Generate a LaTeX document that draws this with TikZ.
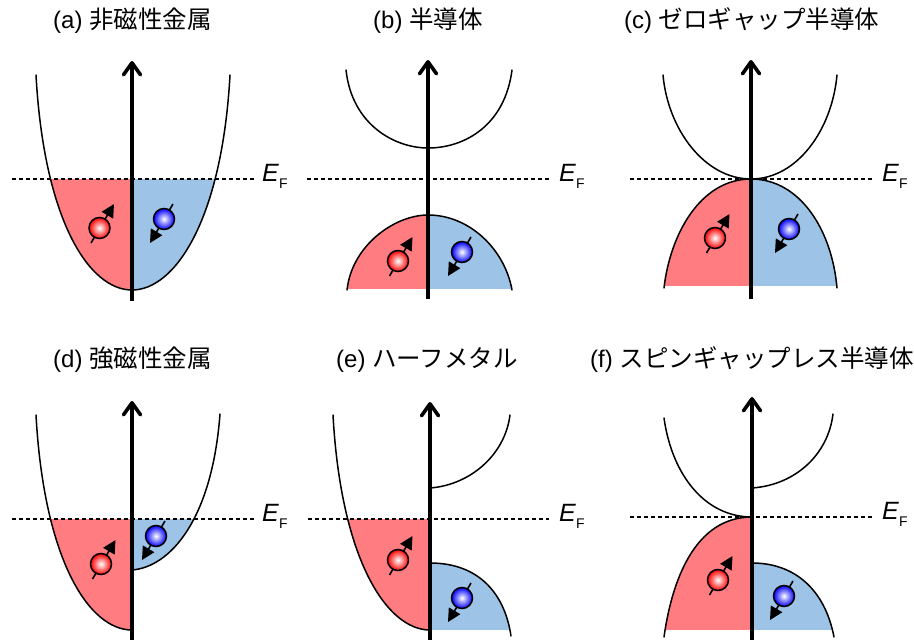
\documentclass[tikz,border=0pt]{standalone}
\usepackage{fontspec}
\setmainfont{Liberation Sans}
\newfontfamily\cjk{Noto Sans CJK JP}
\usetikzlibrary{arrows.meta}
\definecolor{upfill}{HTML}{FF7C80}
\definecolor{downfill}{HTML}{9DC3E6}
\newcommand{\cj}[1]{{\cjk\fontsize{24.5}{28}\selectfont #1}}
\tikzset{
  x=1pt,y=-1pt,
  band/.style={draw=black,line width=1.5pt,line cap=round},
  axisline/.style={draw=black,line width=3.8pt,-{Straight Barb[length=12pt,width=17pt,round,line width=3.6pt]}},
  fermi/.style={draw=black,line width=1.2pt,dash pattern=on 3.6pt off 3.4pt},
  title/.style={anchor=base west,inner sep=0pt,font=\fontsize{24}{28}\selectfont},
  eflabel/.style={anchor=base west,inner sep=0pt,font=\fontsize{25}{28}\selectfont},
  spinarrow/.style={draw=black,line width=1.6pt,-{Triangle[length=13pt,width=13pt]}},
  spinball/.style={draw=black,line width=1.5pt},
}
\newcommand{\spinup}[2]{%
  \draw[spinarrow] (#1-8.5,#2+15) -- (#1+14.5,#2-24);
  \shade[inner color=white,outer color=red] (#1,#2) circle (10.5);
  \draw[spinball] (#1,#2) circle (10.5);}
\newcommand{\spindown}[2]{%
  \draw[spinarrow] (#1+9,#2-15) -- (#1-14,#2+24);
  \shade[inner color=white,outer color=blue] (#1,#2) circle (10.5);
  \draw[spinball] (#1,#2) circle (10.5);}
\newcommand{\eflab}[3]{\node[eflabel] (#3) at (#1,#2) {\textit{E}\raisebox{-7pt}{\fontsize{14}{16}\selectfont F}};}
\begin{document}
\begin{tikzpicture}
\useasboundingbox (0,0) rectangle (914,640);
% ---------- fills
\begin{scope}\clip (0,179) rectangle (132,300);
  \fill[upfill] (132,290) .. controls (89,290) and (44,220) .. (36,75) -- (132,75) -- cycle;\end{scope}
\begin{scope}\clip (132,179) rectangle (300,300);
  \fill[downfill] (132,290) .. controls (175,290) and (222,220) .. (230,75) -- (132,75) -- cycle;\end{scope}
\begin{scope}\clip (300,179) rectangle (428,288);
  \fill[upfill] (347,290) .. controls (352,245) and (395,215) .. (428,215) -- (428,290) -- cycle;\end{scope}
\begin{scope}\clip (428,179) rectangle (600,288);
  \fill[downfill] (428,215) .. controls (470,215) and (505,250) .. (512,290) -- (428,290) -- cycle;\end{scope}
\begin{scope}\clip (600,179) rectangle (751,285);
  \fill[upfill] (664,288) .. controls (670,235) and (700,179) .. (751,179) -- (751,288) -- cycle;\end{scope}
\begin{scope}\clip (751,179) rectangle (900,285);
  \fill[downfill] (751,179) .. controls (800,179) and (832,230) .. (837,288) -- (751,288) -- cycle;\end{scope}
\begin{scope}\clip (0,519) rectangle (132,640);
  \fill[upfill] (132,630) .. controls (89,630) and (44,560) .. (36,415) -- (132,415) -- cycle;\end{scope}
\begin{scope}\clip (132,519) rectangle (300,640);
  \fill[downfill] (132,570) .. controls (170,567) and (212,520) .. (220,414) -- (132,414) -- cycle;\end{scope}
\begin{scope}\clip (300,519) rectangle (430,640);
  \fill[upfill] (430,630) .. controls (387,630) and (341,560) .. (333,415) -- (430,415) -- cycle;\end{scope}
\begin{scope}\clip (430,519) rectangle (600,629);
  \fill[downfill] (430,563) .. controls (480,563) and (505,595) .. (511,636) -- (430,636) -- cycle;\end{scope}
\begin{scope}\clip (600,517) rectangle (752,629);
  \fill[upfill] (664,637) .. controls (672,580) and (695,517) .. (752,517) -- (752,637) -- cycle;\end{scope}
\begin{scope}\clip (752,517) rectangle (900,629);
  \fill[downfill] (752,563) .. controls (795,563) and (825,590) .. (834,637) -- (752,637) -- cycle;\end{scope}
% ---------- Fermi levels
\coordinate (fa1) at (12,179); \coordinate (fa2) at (255,179);
\coordinate (fb1) at (307,179); \coordinate (fb2) at (550,179);
\coordinate (fc1) at (630,179); \coordinate (fc2) at (872,179);
\coordinate (fd1) at (12,519); \coordinate (fd2) at (255,519);
\coordinate (fe1) at (308,519); \coordinate (fe2) at (549,519);
\coordinate (ff1) at (630,517); \coordinate (ff2) at (872,517);
\draw[fermi] (fa1) -- (fa2);
\draw[fermi] (fb1) -- (fb2);
\draw[fermi] (fc1) -- (fc2);
\draw[fermi] (fd1) -- (fd2);
\draw[fermi] (fe1) -- (fe2);
\draw[fermi] (ff1) -- (ff2);
% ---------- bands
\draw[band] (36,75) .. controls (44,220) and (89,290) .. (132,290) .. controls (175,290) and (222,220) .. (230,75);
\draw[band] (346,70) .. controls (352,125) and (395,148) .. (428,148) .. controls (465,148) and (505,125) .. (512,70);
\draw[band] (347,290) .. controls (352,245) and (395,215) .. (428,215) .. controls (470,215) and (505,250) .. (512,290);
\draw[band] (663,75) .. controls (668,130) and (705,179) .. (751,179) .. controls (797,179) and (832,130) .. (837,75);
\draw[band] (664,288) .. controls (670,235) and (700,179) .. (751,179) .. controls (800,179) and (832,230) .. (837,288);
\draw[band] (36,415) .. controls (44,560) and (89,630) .. (132,630);
\draw[band] (132,570) .. controls (170,567) and (212,520) .. (220,414);
\draw[band] (333,415) .. controls (341,560) and (387,630) .. (430,630);
\draw[band] (430,488) .. controls (470,485) and (505,455) .. (510,415);
\draw[band] (430,563) .. controls (480,563) and (505,595) .. (511,636);
\draw[band] (664,418) .. controls (672,475) and (705,517) .. (752,517);
\draw[band] (752,488) .. controls (795,485) and (828,455) .. (833,414);
\draw[band] (664,637) .. controls (672,580) and (695,517) .. (752,517);
\draw[band] (752,563) .. controls (795,563) and (825,590) .. (834,637);
% ---------- axes
\draw[axisline] (132,301) -- (132,61);
\draw[axisline] (428,299) -- (428,60);
\draw[axisline] (751,299) -- (751,60);
\draw[axisline] (132,640) -- (132,401);
\draw[axisline] (430,640) -- (430,402);
\draw[axisline] (752,640) -- (752,397);
% ---------- spins
\spinup{99.5}{228}\spindown{164}{219}
\spinup{398}{261}\spindown{462}{252}
\spinup{715}{238}\spindown{789}{229}
\spinup{101}{564}\spindown{156}{536}
\spinup{398}{560}\spindown{462}{598}
\spinup{718}{580}\spindown{784}{596}
% ---------- labels
\eflab{262}{181}{efa}\eflab{559}{181}{efb}\eflab{882}{181}{efc}
\eflab{262}{521}{efd}\eflab{559}{521}{efe}\eflab{882}{519}{eff}
\node[title] (ta) at (53,28) {(a) \cj{非磁性金属}};
\node[title] (tb) at (373,28) {(b) \cj{半導体}};
\node[title] (tc) at (624,28) {(c) \cj{ゼロギャップ半導体}};
\node[title] (td) at (53,367) {(d) \cj{強磁性金属}};
\node[title] (te) at (336,367) {(e) \cj{ハーフメタル}};
\node[title] (tf) at (590,367) {(f) \cj{スピンギャップレス半導体}};
\end{tikzpicture}
\end{document}
